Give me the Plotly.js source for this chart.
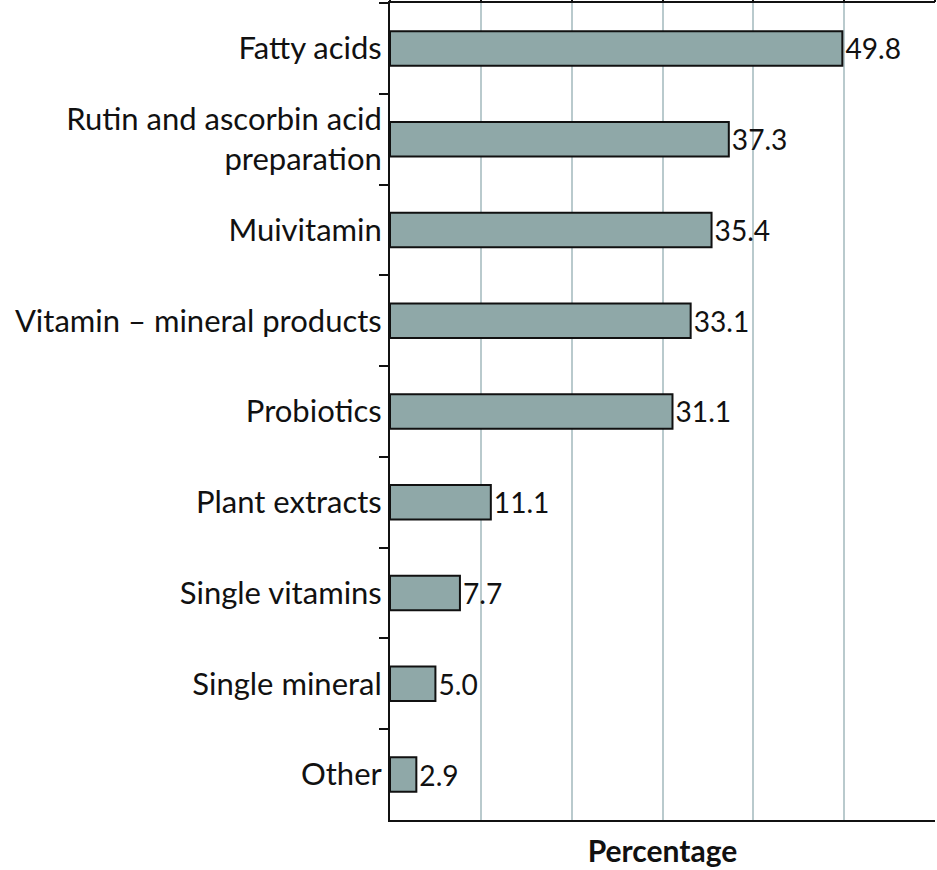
<!DOCTYPE html>
<html><head><meta charset="utf-8">
<script src="https://cdn.plot.ly/plotly-3.0.1.min.js"></script>
<style>body{margin:0;background:#fff}#c{width:937px;height:870px}</style>
</head><body><div id="c"></div>
<script>
var categories = ["Fatty acids","Rutin and ascorbin acid<br>preparation","Muivitamin","Vitamin – mineral products","Probiotics","Plant extracts","Single vitamins","Single mineral","Other"];
var values = [49.8, 37.3, 35.4, 33.1, 31.1, 11.1, 7.7, 5.0, 2.9];
var valueLabels = ["49.8","37.3","35.4","33.1","31.1","11.1","7.7","5.0","2.9"];
var xTitle = "Percentage";

var font = "Lato, Noto Sans, sans-serif";
var trace = {
  type: "bar", orientation: "h",
  x: values, y: categories,
  text: valueLabels, textposition: "outside", cliponaxis: false,
  textfont: {family: font, size: 31, color: "#111"},
  marker: {color: "#8fa8a8", line: {color: "#111", width: 2}},
  hoverinfo: "none"
};
var trace2 = {type: "scatter", x: [0], y: [categories[0]], xaxis: "x2", mode: "markers", marker: {opacity: 0}, hoverinfo: "none", showlegend: false};
var layout = {
  width: 937, height: 870,
  margin: {l: 390, r: 2, t: 3, b: 50},
  paper_bgcolor: "#fff", plot_bgcolor: "#fff",
  showlegend: false,
  bargap: 0.62,
  font: {family: font, size: 31, color: "#111"},
  xaxis: {
    range: [0, 60], dtick: 10, showticklabels: false,
    showgrid: true, gridcolor: "#b9cacd", gridwidth: 2,
    zeroline: false, showline: true, linecolor: "#111", linewidth: 2, mirror: true,
    ticks: "",
    title: {text: xTitle, font: {family: font, size: 30, color: "#111", weight: "bold"}, standoff: 20}
  },
  xaxis2: {
    overlaying: "x", side: "top", matches: "x", range: [0, 60], dtick: 10,
    showticklabels: false, showgrid: false, zeroline: false,
    ticks: "outside", ticklen: 6, tickwidth: 2, tickcolor: "#111"
  },
  yaxis: {
    autorange: "reversed", type: "category",
    tickson: "boundaries", ticks: "outside", ticklen: 9, tickwidth: 2, tickcolor: "#111",
    showline: true, linecolor: "#111", linewidth: 2, showgrid: false, zeroline: false,
    tickfont: {family: font, size: 31, color: "#111"}
  }
};
Plotly.newPlot("c", [trace, trace2], layout, {displayModeBar: false, staticPlot: true});
</script></body></html>
